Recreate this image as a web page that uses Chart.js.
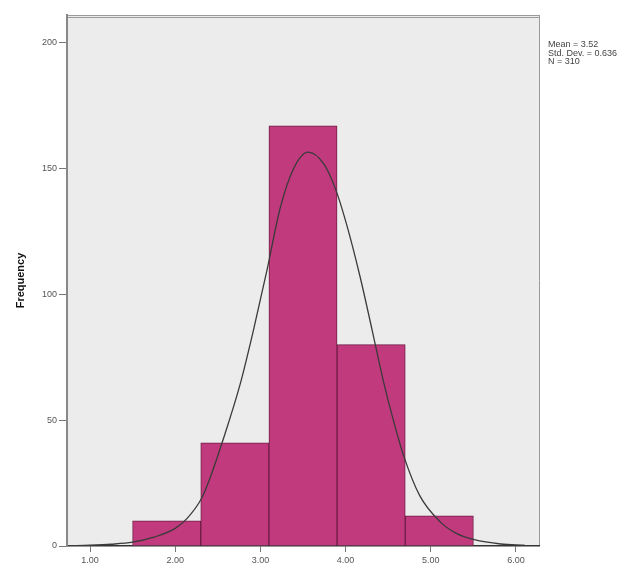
<!DOCTYPE html>
<html>
<head>
<meta charset="utf-8">
<script src="https://cdn.jsdelivr.net/npm/chart.js@4.4.1/dist/chart.umd.min.js"></script>
<style>
  html, body { margin: 0; padding: 0; background: #fff; }
  #wrap { width: 644px; height: 572px; position: relative; }
</style>
</head>
<body>
<div id="wrap"><canvas id="c" width="644" height="572"></canvas></div>
<script>
// histogram bins (centres, width 0.8) and counts
const binCentres = [1.9, 2.7, 3.5, 4.3, 5.1];
const counts = [10, 41, 167, 80, 12];

// fitted normal curve
const curveX = [0.75, 1.0, 1.25, 1.5, 1.75, 2.0, 2.14, 2.31, 2.43, 2.55, 2.76, 2.92, 3.08, 3.23, 3.39, 3.56, 3.74, 3.88, 4.01, 4.17, 4.31, 4.44, 4.56, 4.68, 4.87, 5.11, 5.3, 5.51, 5.82, 6.1];
const curveY = [0.1, 0.3, 0.7, 1.5, 3.5, 7, 11, 19, 29, 41, 64, 86, 110, 134, 150, 156.5, 152, 142, 128, 107, 86, 66, 50, 36, 20, 9.6, 5, 2.5, 0.8, 0.3];

const xTicks = [1, 2, 3, 4, 5, 6];
const yTicks = [0, 50, 100, 150, 200];

const stats = ["Mean = 3.52", "Std. Dev. = 0.636", "N = 310"];

const frame = {
  id: 'frame',
  beforeDraw(chart) {
    const { ctx, chartArea: a } = chart;
    ctx.save();
    ctx.fillStyle = '#ececec';
    ctx.fillRect(a.left, a.top, a.right - a.left, a.bottom - a.top);
    ctx.strokeStyle = '#9a9a9a';
    ctx.lineWidth = 1;
    ctx.beginPath();
    ctx.moveTo(a.left, a.top + 0.5); ctx.lineTo(a.right, a.top + 0.5);
    ctx.moveTo(a.left, a.top + 2.5); ctx.lineTo(a.right, a.top + 2.5);
    ctx.moveTo(a.right + 0.5, a.top); ctx.lineTo(a.right + 0.5, a.bottom);
    ctx.stroke();
    ctx.restore();
  },
  afterDraw(chart) {
    const { ctx, chartArea: a } = chart;
    ctx.save();
    ctx.fillStyle = '#444';
    ctx.font = '9px "Liberation Sans", Arial, sans-serif';
    ctx.textBaseline = 'middle';
    stats.forEach((s, i) => ctx.fillText(s, a.right + 9, 45 + i * 8.5));
    ctx.restore();
  }
};

new Chart(document.getElementById('c'), {
  data: {
    datasets: [
      {
        type: 'line',
        data: curveX.map((x, i) => ({ x: x, y: curveY[i] })),
        borderColor: '#3a3a3a',
        borderWidth: 1.3,
        pointRadius: 0,
        cubicInterpolationMode: 'monotone',
        fill: false
      },
      {
        type: 'bar',
        data: binCentres.map((x, i) => ({ x: x, y: counts[i] })),
        backgroundColor: '#c13a7d',
        borderColor: '#6e1e45',
        borderWidth: 1,
        barPercentage: 1,
        categoryPercentage: 1
      }
    ]
  },
  options: {
    responsive: false,
    animation: false,
    layout: { padding: { top: 15, right: 105, left: 0, bottom: 0 } },
    plugins: { legend: { display: false }, tooltip: { enabled: false } },
    scales: {
      x: {
        type: 'linear',
        offset: false,
        min: 0.73,
        max: 6.27,
        afterBuildTicks: s => { s.ticks = xTicks.map(v => ({ value: v })); },
        afterFit: s => { s.height = 26; },
        grid: { offset: false, drawOnChartArea: false, drawTicks: true, tickLength: 6, color: '#777' },
        border: { color: '#333', width: 1.5 },
        ticks: {
          callback: v => Number(v).toFixed(2),
          color: '#555',
          font: { size: 9, family: '"Liberation Sans", Arial, sans-serif' },
          padding: 3,
          maxRotation: 0
        }
      },
      y: {
        min: 0,
        max: 211,
        afterBuildTicks: s => { s.ticks = yTicks.map(v => ({ value: v })); },
        afterFit: s => { s.width = 67; },
        grid: { drawOnChartArea: false, drawTicks: true, tickLength: 8, color: '#777' },
        border: { color: '#888', width: 2 },
        title: {
          display: true,
          text: 'Frequency',
          color: '#111',
          font: { size: 11, weight: 'bold', family: '"Liberation Sans", Arial, sans-serif' },
          padding: { top: 14, bottom: 0 }
        },
        ticks: {
          color: '#555',
          font: { size: 9, family: '"Liberation Sans", Arial, sans-serif' },
          padding: 2
        }
      }
    }
  },
  plugins: [frame]
});
</script>
</body>
</html>
